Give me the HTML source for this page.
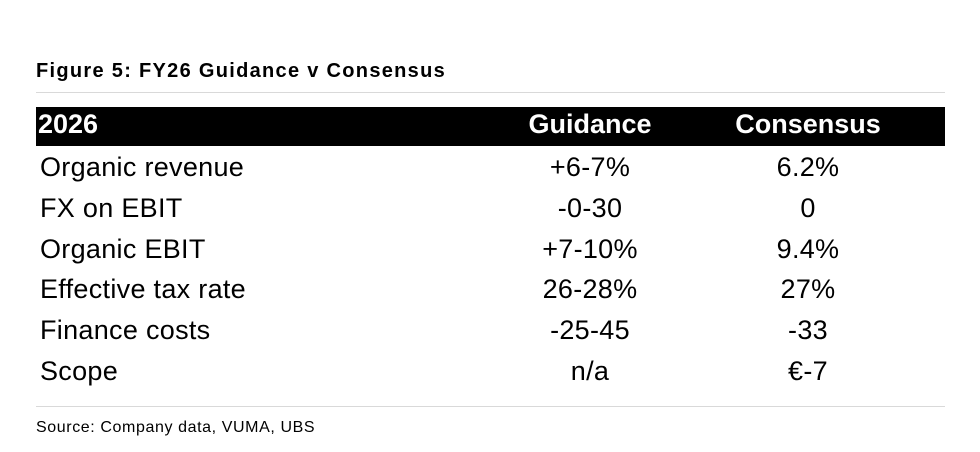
<!DOCTYPE html>
<html><head><meta charset="utf-8"><style>
body{margin:0;width:980px;height:452px;background:#fff;position:relative;font-family:"Liberation Sans",sans-serif;color:#000;overflow:hidden}
.a{position:absolute;white-space:nowrap}
.t{left:36px;top:60px;font-size:20px;font-weight:bold;letter-spacing:1.3px}
.l{position:absolute;left:36px;width:909px;height:1px;background:#d9d9d9}
.bar{position:absolute;left:36px;top:107px;width:909px;height:39px;background:#000}
.h{font-size:27px;font-weight:bold;color:#fff;top:109px}
.r{font-size:27px;line-height:30px;letter-spacing:0.3px}
.c1{width:200px;left:490px;text-align:center}
.c2{width:200px;left:708px;text-align:center}
.s{left:36px;top:419px;font-size:16px;letter-spacing:0.6px}
</style></head><body>
<div class="a t">Figure 5: FY26 Guidance v Consensus</div>
<div class="l" style="top:92px"></div>
<div class="bar"></div>
<div class="a h" style="left:38px">2026</div>
<div class="a h c1">Guidance</div>
<div class="a h c2">Consensus</div>

<div class="a r" style="left:40px;top:152px">Organic revenue</div><div class="a r c1" style="top:152px">+6-7%</div><div class="a r c2" style="top:152px">6.2%</div>
<div class="a r" style="left:40px;top:193px">FX on EBIT</div><div class="a r c1" style="top:193px">-0-30</div><div class="a r c2" style="top:193px">0</div>
<div class="a r" style="left:40px;top:234px">Organic EBIT</div><div class="a r c1" style="top:234px">+7-10%</div><div class="a r c2" style="top:234px">9.4%</div>
<div class="a r" style="left:40px;top:274px">Effective tax rate</div><div class="a r c1" style="top:274px">26-28%</div><div class="a r c2" style="top:274px">27%</div>
<div class="a r" style="left:40px;top:315px">Finance costs</div><div class="a r c1" style="top:315px">-25-45</div><div class="a r c2" style="top:315px">-33</div>
<div class="a r" style="left:40px;top:356px">Scope</div><div class="a r c1" style="top:356px">n/a</div><div class="a r c2" style="top:356px">€-7</div>

<div class="l" style="top:406px"></div>
<div class="a s">Source: Company data, VUMA, UBS</div>
</body></html>
